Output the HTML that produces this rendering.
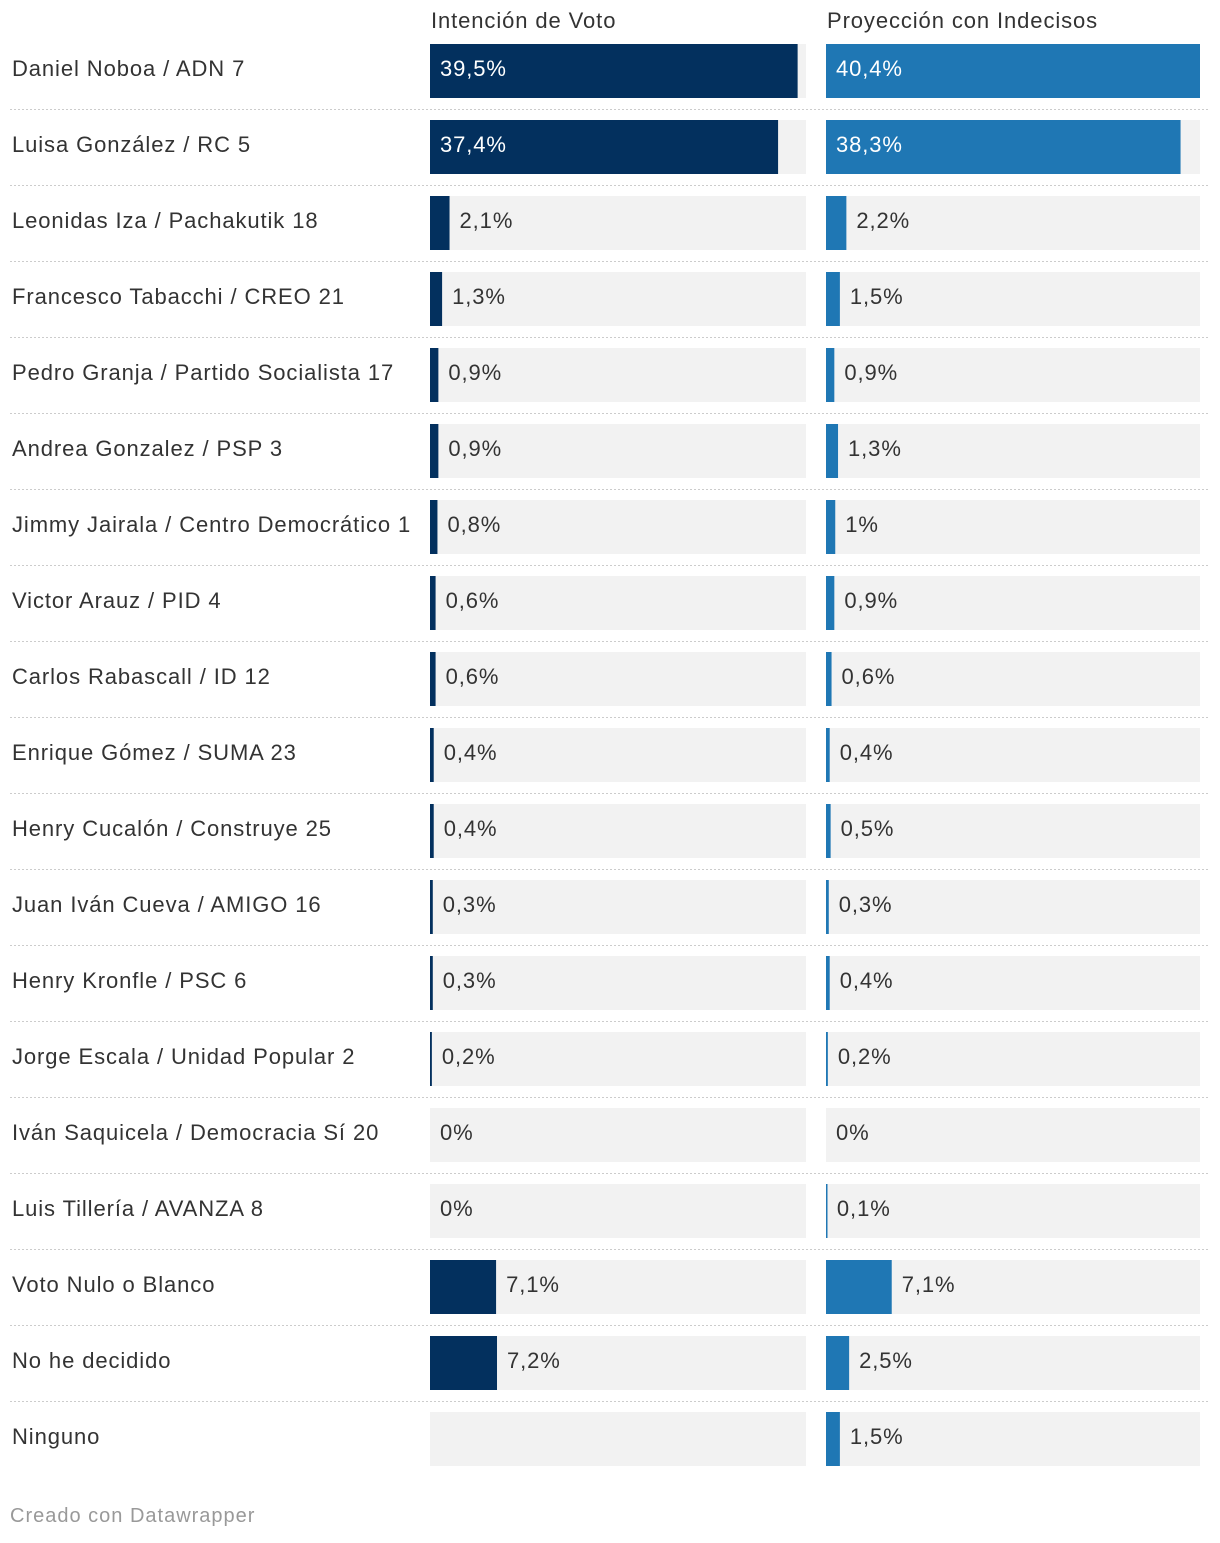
<!DOCTYPE html>
<html><head><meta charset="utf-8">
<style>
body{margin:0;background:#fff;width:1220px;height:1538px;overflow:hidden;font-family:"Liberation Sans",Arial,sans-serif;}
svg text{font-family:"Liberation Sans",Arial,sans-serif;}
</style></head>
<body>
<svg id="chart" width="1220" height="1538" xmlns="http://www.w3.org/2000/svg"></svg>
<script>
const categories=["Daniel Noboa / ADN 7","Luisa González / RC 5","Leonidas Iza / Pachakutik 18","Francesco Tabacchi / CREO 21","Pedro Granja / Partido Socialista 17","Andrea Gonzalez / PSP 3","Jimmy Jairala / Centro Democrático 1","Victor Arauz / PID 4","Carlos Rabascall / ID 12","Enrique Gómez / SUMA 23","Henry Cucalón / Construye 25","Juan Iván Cueva / AMIGO 16","Henry Kronfle / PSC 6","Jorge Escala / Unidad Popular 2","Iván Saquicela / Democracia Sí 20","Luis Tillería / AVANZA 8","Voto Nulo o Blanco","No he decidido","Ninguno"];
const intencion=[39.5,37.4,2.1,1.3,0.9,0.9,0.8,0.6,0.6,0.4,0.4,0.3,0.3,0.2,0,0,7.1,7.2,null];
const proyeccion=[40.4,38.3,2.2,1.5,0.9,1.3,1,0.9,0.6,0.4,0.5,0.3,0.4,0.2,0,0.1,7.1,2.5,1.5];
const seriesNames=["Intención de Voto","Proyección con Indecisos"];
const domainMax=40.4;

const NS="http://www.w3.org/2000/svg";
const svg=document.getElementById('chart');
function mk(tag,attrs,parent){const e=document.createElementNS(NS,tag);for(const k in attrs)e.setAttribute(k,attrs[k]);(parent||svg).appendChild(e);return e;}
function fmt(v){return (Math.round(v*10)/10).toString().replace('.',',')+'%';}
const cols=[{x:430,w:376,color:'#03305e',data:intencion},{x:826,w:374,color:'#1f77b4',data:proyeccion}];
const rowY=i=>44+i*76, barH=54;
const LS='0.9px';

cols.forEach((c,ci)=>{
  const t=mk('text',{x:c.x+1,y:28,'font-size':22,fill:'#333','letter-spacing':LS});
  
  
  t.textContent=seriesNames[ci];
});

categories.forEach((cat,i)=>{
  const y=rowY(i);
  const lab=mk('text',{x:12,y:y+32,'font-size':22,fill:'#333','letter-spacing':LS});
  
  
  lab.textContent=cat;
  if(i<categories.length-1){
    const ln=mk('line',{x1:10,x2:1208,y1:y+65.5,y2:y+65.5,stroke:'#ccc','stroke-width':1,'stroke-dasharray':'2,2'});
    
    
  }
  cols.forEach((c,ci)=>{
    const bg=mk('rect',{x:c.x,y:y,width:c.w,height:barH,fill:'#f2f2f2'});
    
    
    const v=c.data[i];
    if(v===null||v===undefined)return;
    const bw=Math.min(c.w,v/domainMax*c.w);
    if(v>0){
      const b=mk('rect',{x:c.x,y:y,width:Math.max(bw,1.5),height:barH,fill:c.color});
      
      
    }
    const inside=bw>100;
    const vt=mk('text',{x:inside?c.x+10:c.x+bw+10,y:y+32,'font-size':22,fill:inside?'#fff':'#333','letter-spacing':LS});
    
    
    vt.textContent=fmt(v);
  });
});
const f=mk('text',{x:10,y:1522,'font-size':20,fill:'#999','letter-spacing':'1px'});


f.textContent='Creado con Datawrapper';
</script>
</body></html>
